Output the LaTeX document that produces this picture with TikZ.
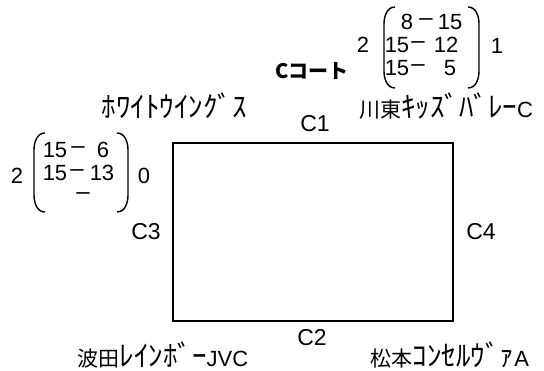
\documentclass[tikz,border=0pt]{standalone}
\usepackage{fontspec}
\setmainfont{Liberation Sans}
\newfontfamily\jp{Noto Sans CJK JP}
\newcommand\hk[1]{{\fontsize{29}{29}\selectfont #1}}
\newcommand\lt[1]{{\rmfamily\fontsize{22}{22}\selectfont #1}}
\begin{document}
\begin{tikzpicture}[x=1pt,y=-1pt,
  lbl/.style={font=\fontsize{23}{23}\selectfont, inner sep=0},
  team/.style={font=\jp\fontsize{21}{21}\selectfont, inner sep=0},
  num/.style={font=\fontsize{22}{22}\selectfont, inner sep=0},
  dsh/.style={font=\fontsize{24}{24}\selectfont, inner sep=0},
  paren/.style={line width=1.4pt},
  court/.style={draw, line width=2.2pt, inner sep=0, outer sep=0}]
\useasboundingbox (0,0) rectangle (544,371);
% court
\node[court, minimum width=280pt, minimum height=178pt] (court) at (313,232) {};
\node[lbl] (c1) at (315,124) {C1};
\node[lbl] (c2) at (312,338) {C2};
\node[lbl] (c3) at (146,232) {C3};
\node[lbl] (c4) at (481,232) {C4};
% teams
\node[team] (t1) at (174,106) {\hk{ﾎﾜｲﾄｳｲﾝｸﾞｽ}};
\node[team] (t2) at (446,106) {川東\hk{ｷｯｽﾞﾊﾞﾚｰ}\lt{C}};
\node[team] (t3) at (163,355) {波田\hk{ﾚｲﾝﾎﾞｰ}\lt{JVC}};
\node[team] (t4) at (450,355) {松本\hk{ｺﾝｾﾙｳﾞｧ}\lt{A}};
% C court title and score
\node[font=\jp\bfseries\fontsize{20}{20}\selectfont, inner sep=0] (title) at (312,71) {Cコート};
\node[num] (s1) at (363,45) {2};
\node[num] (s2) at (497,46) {1};
\node[num] (r1a) at (407,22) {8};
\node[dsh] (r1b) at (426,22) {–};
\node[num] (r1c) at (450,22) {15};
\node[num] (r2a) at (397,45) {15};
\node[dsh] (r2b) at (418,45) {–};
\node[num] (r2c) at (446,45) {12};
\node[num] (r3a) at (397,68) {15};
\node[dsh] (r3b) at (418,68) {–};
\node[num] (r3c) at (450,68) {5};
\coordinate (tl1) at (395,7);
\coordinate (tl2) at (395,88);
\coordinate (tr1) at (468,7);
\coordinate (tr2) at (468,88);
\draw[paren] (tl1) to[out=180,in=90] (384,24) -- (384,71) to[out=-90,in=180] (tl2);
\draw[paren] (tr1) to[out=0,in=90] (479,24) -- (479,71) to[out=-90,in=0] (tr2);
% left score
\node[num] (l1) at (17,176) {2};
\node[num] (l2) at (144,176) {0};
\node[num] (m1a) at (55,150) {15};
\node[dsh] (m1b) at (78,150) {–};
\node[num] (m1c) at (103,150) {6};
\node[num] (m2a) at (55,173) {15};
\node[dsh] (m2b) at (77,173) {–};
\node[num] (m2c) at (102,173) {13};
\node[dsh] (m3b) at (83,196) {–};
\coordinate (ll1) at (45,133);
\coordinate (ll2) at (45,212);
\coordinate (lr1) at (117,133);
\coordinate (lr2) at (117,212);
\draw[paren] (ll1) to[out=180,in=90] (34,150) -- (34,195) to[out=-90,in=180] (ll2);
\draw[paren] (lr1) to[out=0,in=90] (128,150) -- (128,195) to[out=-90,in=0] (lr2);
\end{tikzpicture}
\end{document}
